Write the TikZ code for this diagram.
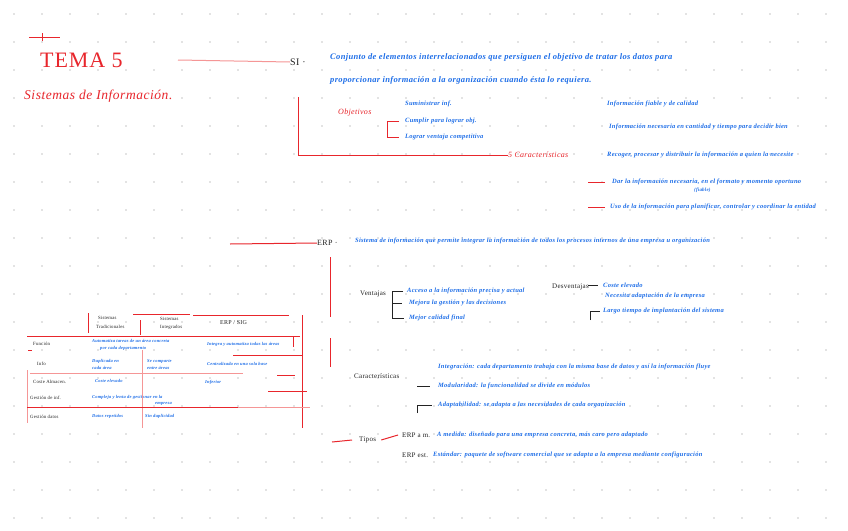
\documentclass[tikz,border=0pt]{standalone}
\usepackage{fontspec}
\setmainfont{Liberation Serif}
\newfontfamily\hand[LetterSpace=4]{Liberation Serif}
\usepackage{tikz}
\usetikzlibrary{positioning, calc}
\definecolor{inkred}{RGB}{232,38,44}
\definecolor{inkblue}{RGB}{30,110,232}
\definecolor{inkblack}{RGB}{35,35,35}
\definecolor{dotcol}{RGB}{200,200,200}
\definecolor{palered}{RGB}{245,150,150}

\begin{document}
\begin{tikzpicture}[x=1pt, y=-1pt,
  note/.style={text=inkblue, font=\hand\bfseries\itshape\fontsize{6.5}{7}\selectfont,
               anchor=west, inner sep=0pt},
  key/.style={text=inkblack, font=\hand\fontsize{7}{7}\selectfont,
              anchor=west, inner sep=0pt},
  redkey/.style={text=inkred, font=\hand\itshape\fontsize{8}{8}\selectfont,
                 anchor=west, inner sep=0pt},
  cell/.style={text=inkblue, font=\hand\bfseries\itshape\fontsize{4.5}{5}\selectfont,
               anchor=west, inner sep=0pt},
  head/.style={text=inkblack, font=\hand\fontsize{4.8}{5}\selectfont,
               anchor=west, inner sep=0pt},
  redline/.style={draw=inkred, line width=1pt},
  thinred/.style={draw=palered, line width=0.6pt},
  blkline/.style={draw=inkblack, line width=0.8pt}
]
  \useasboundingbox[fill=white] (0,0) rectangle (848,530);
  \foreach \x in {14,42,...,848}
    \foreach \y in {14,42,...,530}
      \fill[dotcol] (\x,\y) circle (0.8pt);

  % titulo
  \coordinate (m0) at (29,37);
  \coordinate (m1) at (60,37);
  \draw[redline] (m0) -- (m1);
  \draw[redline] (42,33) -- (42,41);
  \node[text=inkred, font=\hand\fontsize{22}{22}\selectfont, anchor=west,
        inner sep=0pt] (tema) at (40,60) {TEMA 5};
  \node[text=inkred, font=\hand\itshape\fontsize{13.5}{14}\selectfont,
        anchor=west, inner sep=0pt] (sub) at (24,96) {Sistemas de Información.};

  % SI
  \coordinate (t0) at (178,60);
  \node[key, font=\hand\fontsize{10}{10}\selectfont] (si) at (290,62) {SI ·};
  \draw[thinred, line width=1pt] (t0) -- (si.west);
  \node[note, font=\hand\bfseries\itshape\fontsize{8.5}{9}\selectfont] (si1) at (330,57)
    {Conjunto de elementos interrelacionados que persiguen el objetivo de tratar los datos para};
  \node[note, font=\hand\bfseries\itshape\fontsize{8.5}{9}\selectfont] (si2) at (330,80)
    {proporcionar información a la organización cuando ésta lo requiera.};

  \node[redkey] (obj) at (338,113) {Objetivos};
  \node[note] (o1) at (405,104) {Suministrar inf.};
  \node[note] (o2) at (405,121) {Cumplir para lograr obj.};
  \node[note] (o3) at (405,137) {Lograr ventaja competitiva};
  \draw[redline] ([xshift=-6pt]o2.west) -| ([xshift=-18pt]o3.west)
    -- ([xshift=-6pt]o3.west);

  \coordinate (s0) at (298,97);
  \node[redkey] (car) at (508,155) {5 Características};
  \draw[redline] (s0) |- (car.west);

  \node[note] (c1) at (607,104) {Información fiable y de calidad};
  \node[note] (c2) at (609,127) {Información necesaria en cantidad y tiempo para decidir bien};
  \node[note] (c3) at (607,155) {Recoger, procesar y distribuir la información a quien la necesite};
  \node[note] (c4) at (612,182) {Dar la información necesaria, en el formato y momento oportuno};
  \node[note, font=\hand\bfseries\itshape\fontsize{5}{6}\selectfont] (c4b) at (694,190) {(fiable)};
  \node[note] (c5) at (610,207) {Uso de la información para planificar, controlar y coordinar la entidad};
  \draw[redline] ([xshift=-24pt]c4.west) -- ([xshift=-7pt]c4.west);
  \draw[redline] ([xshift=-22pt]c5.west) -- ([xshift=-5pt]c5.west);

  % ERP
  \coordinate (e0) at (230,244);
  \node[key, font=\hand\fontsize{8}{8}\selectfont] (erp) at (317,243) {ERP ·};
  \draw[redline] (e0) -- (erp.west);
  \node[note] (erp1) at (355,241)
    {Sistema de información que permite integrar la información de todos los procesos internos de una empresa u organización};
  \coordinate (e1) at (330,257);
  \coordinate (e2) at (330,317);
  \coordinate (e3) at (330,338);
  \coordinate (e4) at (330,367);
  \draw[redline] (e1) -- (e2);
  \draw[redline] (e3) -- (e4);

  \node[key] (ven) at (360,294) {Ventajas};
  \node[note] (v1) at (407,291) {Acceso a la información precisa y actual};
  \node[note] (v2) at (409,303) {Mejora la gestión y las decisiones};
  \node[note] (v3) at (409,318) {Mejor calidad final};
  \draw[blkline] ([xshift=-4pt]v1.west) -- ([xshift=-15pt]v1.west)
    |- ([xshift=-5pt]v3.west);
  \draw[blkline] ([xshift=-17pt]v2.west) -- ([xshift=-7pt]v2.west);

  \node[key] (des) at (552,287) {Desventajas};
  \node[note] (d1) at (603,285) {Coste elevado};
  \node[note] (d2) at (605,296) {Necesita adaptación de la empresa};
  \node[note] (d3) at (603,311) {Largo tiempo de implantación del sistema};
  \draw[blkline] ([xshift=-15pt]d1.west) -- ([xshift=-5pt]d1.west);
  \draw[blkline] ([xshift=-13pt,yshift=-9pt]d3.west) |- ([xshift=-3pt]d3.west);

  \node[key] (cart) at (354,376) {Características};
  \node[note] (k1) at (438,367)
    {Integración: cada departamento trabaja con la misma base de datos y así la información fluye};
  \node[note] (k2) at (438,386) {Modularidad: la funcionalidad se divide en módulos};
  \node[note] (k3) at (438,405) {Adaptabilidad: se adapta a las necesidades de cada organización};
  \draw[blkline] ([xshift=-21pt]k2.west) -- ([xshift=-8pt]k2.west);
  \draw[blkline] ([xshift=-21pt,yshift=-8pt]k3.west) |- ([xshift=-6pt]k3.west);

  \coordinate (p0) at (332,442);
  \node[key] (tip) at (359,440) {Tipos};
  \draw[redline] (p0) -- ([xshift=-7pt]tip.west);
  \node[key] (ta) at (402,435) {ERP a m.};
  \node[key] (tb) at (402,455) {ERP est.};
  \draw[redline] ([xshift=5pt]tip.east) -- ([xshift=-4pt]ta.west);
  \node[note] (ta1) at (437,435)
    {A medida: diseñado para una empresa concreta, más caro pero adaptado};
  \node[note] (tb1) at (433,455)
    {Estándar: paquete de software comercial que se adapta a la empresa mediante configuración};

  % tabla
  \node[head] (h1a) at (98,318) {Sistemas};
  \node[head] (h1b) at (96,327) {Tradicionales};
  \node[head] (h2a) at (160,319) {Sistemas};
  \node[head] (h2b) at (160,327) {Integrados};
  \node[head, font=\hand\fontsize{6}{6}\selectfont] (h3) at (220,323) {ERP / SIG};
  \node[head] (r1) at (33,344) {Función};
  \node[head] (r2) at (37,364) {Info};
  \node[head] (r3) at (33,382) {Coste Almacen.};
  \node[head] (r4) at (30,398) {Gestión de inf.};
  \node[head] (r5) at (30,417) {Gestión datos};
  \node[cell] (f1) at (92,341) {Automatiza tareas de un área concreta};
  \node[cell] (f1b) at (100,348) {por cada departamento};
  \node[cell] (f3) at (207,344) {Integra y automatiza todas las áreas};
  \node[cell] (i1) at (92,361) {Duplicada en};
  \node[cell] (i1b) at (92,368) {cada área};
  \node[cell] (i2) at (147,361) {Se comparte};
  \node[cell] (i2b) at (147,368) {entre áreas};
  \node[cell] (i3) at (207,364) {Centralizada en una sola base};
  \node[cell] (g1) at (95,381) {Coste elevado};
  \node[cell] (g3) at (205,382) {Inferior};
  \node[cell] (n1) at (92,397) {Compleja y lenta de gestionar en la};
  \node[cell] (n1b) at (155,404) {empresa};
  \node[cell] (u1) at (92,416) {Datos repetidos};
  \node[cell] (u2) at (145,416) {Sin duplicidad};

  \draw[redline] (88,313) -- (88,333);
  \draw[redline] (133,314) -- (190,314);
  \draw[redline] (193,315) -- (289,315);
  \draw[redline] (302,315) -- (302,428);
  \draw[redline] (140,320) -- (140,335);
  \draw[thinred] (142,350) -- (142,428);
  \draw[redline] (27,336) -- (300,336);
  \draw[redline] (293,336) -- (293,347);
  \draw[redline] (233,355) -- (302,355);
  \draw[thinred] (30,373) -- (243,373);
  \draw[redline] (277,375) -- (295,375);
  \draw[thinred] (27,370) -- (27,423);
  \draw[redline] (268,391) -- (307,391);
  \draw[redline] (27,407) -- (238,407);
  \draw[thinred] (238,407) -- (310,407);
  \draw[redline] (28,350) -- (32,350);
\end{tikzpicture}
\end{document}
